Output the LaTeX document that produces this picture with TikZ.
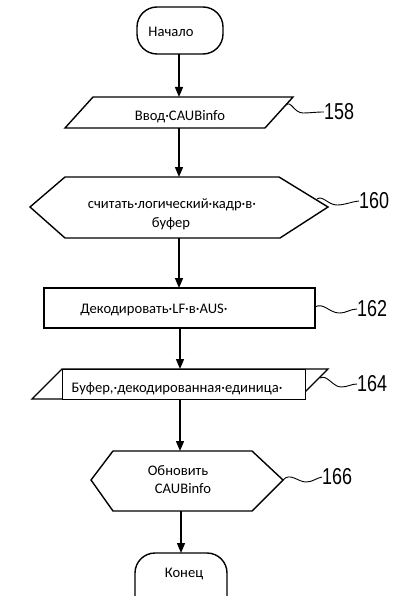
\documentclass[tikz,border=0pt]{standalone}
\usepackage{fontspec}
\setmainfont{Carlito}
\newfontfamily\numfont[FakeStretch=0.78]{Liberation Sans}
\usetikzlibrary{arrows.meta}

\tikzset{
  shp/.style={draw=black, line width=1.4pt, line join=miter},
  flow/.style={draw=black, line width=1.4pt, -{Triangle[length=10pt,width=8pt]}},
  lead/.style={draw=black, line width=0.9pt},
  txt/.style={inner sep=0pt, anchor=base, font=\fontsize{14.6}{18}\selectfont},
  num/.style={inner sep=0pt, anchor=west, font=\numfont\fontsize{23}{23}\selectfont},
  thinbox/.style={draw=black, fill=white, line width=0.8pt}
}

\begin{document}
\begin{tikzpicture}[x=1pt, y=-1pt]
  % canvas
  \fill[white] (0,0) rectangle (393,596);
  \useasboundingbox (0,0) rectangle (393,596);
  \clip (0,0) rectangle (393,596);

  % start terminal
  \draw[shp, rounded corners=20pt] (137,7) rectangle (223,54);
  \node[txt] (tstart) at (171,37) {Начало};

  % input parallelogram 158
  \draw[shp] (93,97) -- (293,97) -- (265,128) -- (65,128) -- cycle;
  \node[txt] (tin) at (180,121) {Ввод·CAUBinfo};

  % preparation hexagon 160
  \draw[shp] (30,207) -- (65,177) -- (279,177) -- (328,207) -- (280,238) -- (65,238) -- cycle;
  \node[txt] (tread1) at (172,208) {считать·логический·кадр·в·};
  \node[txt] (tread2) at (171,227) {буфер};

  % process box 162
  \draw[shp] (44,288) rectangle (315,328);
  \node[txt] (tdec) at (154,313) {Декодировать·LF·в·AUS·};

  % output parallelogram 164 with its text frame
  \draw[shp] (62,369) -- (328,369) -- (298,399) -- (32,399) -- cycle;
  \draw[thinbox] (62,369) rectangle (305,399);
  \node[txt] (tbuf) at (177,392) {Буфер,·декодированная·единица·};

  % preparation hexagon 166
  \draw[shp] (91,480) -- (113,451) -- (252,451) -- (283,480) -- (252,511) -- (113,511) -- cycle;
  \node[txt] (tupd1) at (178,475) {Обновить};
  \node[txt] (tupd2) at (183,493) {CAUBinfo};

  % end terminal (runs past the lower edge)
  \draw[shp, rounded corners=20pt] (135,553) rectangle (227,625);
  \node[txt] (tend) at (184,577) {Конец};

  % flow connectors
  \coordinate (a0) at (179,54);   \coordinate (a1) at (179,97);
  \coordinate (b0) at (179,128);  \coordinate (b1) at (179,177);
  \coordinate (c0) at (179,238);  \coordinate (c1) at (179,288);
  \coordinate (d0) at (180,328);  \coordinate (d1) at (180,369);
  \coordinate (e0) at (180,399);  \coordinate (e1) at (180,451);
  \coordinate (f0) at (181,511);  \coordinate (f1) at (181,553);
  \draw[flow] (a0) -- (a1);
  \draw[flow] (b0) -- (b1);
  \draw[flow] (c0) -- (c1);
  \draw[flow] (d0) -- (d1);
  \draw[flow] (e0) -- (e1);
  \draw[flow] (f0) -- (f1);

  % reference numerals with wavy leaders
  \coordinate (l158) at (286,105);
  \node[num] (n158) at (324,112) {158};
  \draw[lead] (l158) .. controls (291,100) and (294,113) .. (303,113)
              .. controls (310,113) and (315,112) .. (n158.west);

  \coordinate (l160) at (317,199);
  \node[num] (n160) at (359,201) {160};
  \draw[lead] (l160) .. controls (323,195) and (328,205) .. (337,205)
              .. controls (345,205) and (350,202) .. (n160.west);

  \coordinate (l162) at (315,307);
  \node[num] (n162) at (357,309) {162};
  \draw[lead] (l162) .. controls (323,302) and (330,313) .. (339,313)
              .. controls (347,313) and (350,309) .. (n162.west);

  \coordinate (l164) at (320,378);
  \node[num] (n164) at (357,384) {164};
  \draw[lead] (l164) .. controls (327,374) and (333,387) .. (341,387)
              .. controls (348,387) and (351,384) .. (n164.west);

  \coordinate (l166) at (283,480);
  \node[num] (n166) at (322,477) {166};
  \draw[lead] (l166) .. controls (290,472) and (298,482) .. (306,482)
              .. controls (313,482) and (316,478) .. (n166.west);
\end{tikzpicture}
\end{document}
